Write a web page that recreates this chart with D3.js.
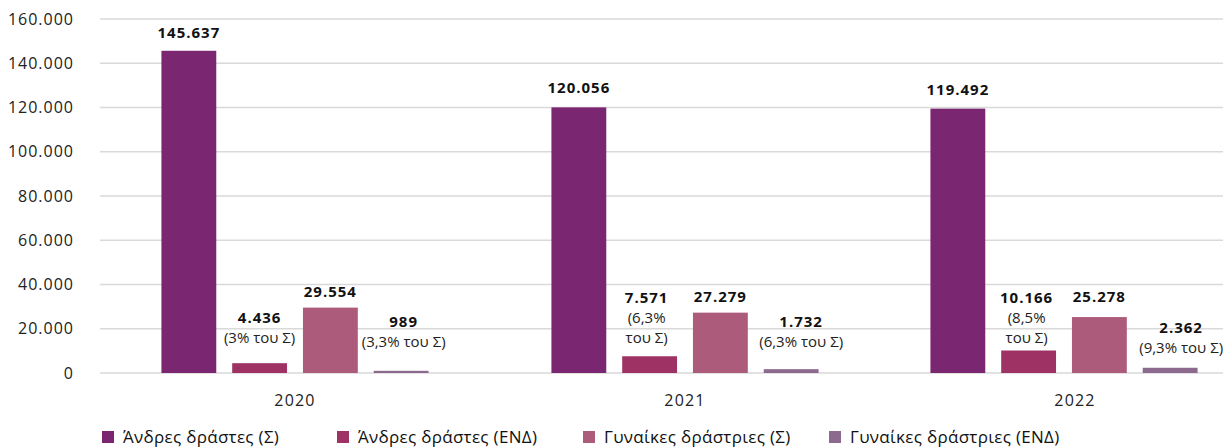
<!DOCTYPE html>
<html>
<head>
<meta charset="utf-8">
<script src="https://cdn.jsdelivr.net/npm/d3@7"></script>
<style>
  html, body { margin: 0; padding: 0; background: #fff; }
  svg { display: block; font-family: "Open Sans", "Noto Sans", sans-serif; }
</style>
</head>
<body>
<svg id="chart" width="1223" height="447"></svg>
<script>
// ---- data ----
const years = ["2020", "2021", "2022"];
const seriesNames = ["Άνδρες δράστες (Σ)", "Άνδρες δράστες (ΕΝΔ)", "Γυναίκες δράστριες (Σ)", "Γυναίκες δράστριες (ΕΝΔ)"];
const menTotal = [145637, 120056, 119492];
const menEND = [4436, 7571, 10166];
const womenTotal = [29554, 27279, 25278];
const womenEND = [989, 1732, 2362];
const valueLabels = [
  ["145.637", "120.056", "119.492"],
  ["4.436", "7.571", "10.166"],
  ["29.554", "27.279", "25.278"],
  ["989", "1.732", "2.362"]
];
const noteLabels = [
  ["", "", ""],
  ["(3% του Σ)", "(6,3%\nτου Σ)", "(8,5%\nτου Σ)"],
  ["", "", ""],
  ["(3,3% του Σ)", "(6,3% του Σ)", "(9,3% του Σ)"]
];
const yTicks = [0, 20000, 40000, 60000, 80000, 100000, 120000, 140000, 160000];

// ---- layout / style ----
const colors = ["#7b2670", "#9e3264", "#ad5b7b", "#8b6a8d"];
const labelGap = [ // px between bar top and baseline of the last label line
  [12.5, 14, 14],
  [20, 13, 7.5],
  [11, 11, 15],
  [24, 22, 15]
];
const labelDx = [
  [0, 0, 0],
  [0, -3, -2],
  [0, 0, 0],
  [2.5, 10, 11]
];
const groupDx = [0, 0, -11];
const lineH = 20;
const legendX = [102, 337, 583, 829];

const seriesValues = [menTotal, menEND, womenTotal, womenEND];
const svg = d3.select("#chart");

const x0 = d3.scaleBand().domain(years).range([100, 1270]).paddingInner(0.315).paddingOuter(0.1575);
const x1 = d3.scaleBand().domain(d3.range(seriesNames.length)).range([0, x0.bandwidth()]).paddingInner(0.225).paddingOuter(0);
const y = d3.scaleLinear().domain([0, 160000]).range([373, 19]);

const fmt = d3.formatLocale({decimal: ",", thousands: ".", grouping: [3], currency: ["", "€"]}).format(",");

// y axis labels
const yAxis = d3.axisLeft(y).tickValues(yTicks).tickFormat(fmt).tickSize(0).tickPadding(0);
const gy = svg.append("g").attr("transform", "translate(74,0)").call(yAxis);
gy.select(".domain").remove();
gy.selectAll("text").attr("font-size", 16).attr("letter-spacing", "1px").attr("fill", "#222")
  .attr("font-family", "Open Sans, Noto Sans, sans-serif");

// gridlines
svg.append("g").selectAll("line").data(yTicks).join("line")
  .attr("x1", 100).attr("x2", 1270)
  .attr("y1", d => y(d)).attr("y2", d => y(d))
  .attr("stroke", "#d9d9d9").attr("stroke-width", 1.3);

// x axis labels
const xAxis = d3.axisBottom(x0).tickSize(0).tickPadding(0);
const gx = svg.append("g").attr("transform", "translate(0,395)").call(xAxis);
gx.select(".domain").remove();
gx.selectAll("text").attr("font-size", 16).attr("letter-spacing", "1.2px").attr("fill", "#222").attr("dy", "0.71em")
  .attr("font-family", "Open Sans, Noto Sans, sans-serif");

// bars
const groups = svg.append("g").selectAll("g").data(years).join("g")
  .attr("transform", (d, i) => `translate(${x0(d) + groupDx[i]},0)`);

groups.selectAll("rect").data((yr, i) => seriesValues.map((s, k) => ({k, i, v: s[i]})))
  .join("rect")
  .attr("x", d => x1(d.k))
  .attr("width", x1.bandwidth())
  .attr("y", d => y(d.v))
  .attr("height", d => y(0) - y(d.v))
  .attr("fill", d => colors[d.k]);

// labels
groups.each(function(yr, i) {
  const g = d3.select(this);
  seriesValues.forEach((s, k) => {
    const lines = [{t: valueLabels[k][i], bold: true}];
    if (noteLabels[k][i]) noteLabels[k][i].split("\n").forEach(t => lines.push({t, bold: false}));
    const bottom = y(s[i]) - labelGap[k][i];
    const cx = x1(k) + x1.bandwidth() / 2 + labelDx[k][i];
    lines.forEach((ln, j) => {
      g.append("text")
        .attr("x", cx)
        .attr("y", bottom - (lines.length - 1 - j) * lineH)
        .attr("text-anchor", "middle")
        .attr("font-size", 15)
        .attr("letter-spacing", ln.bold ? "1px" : "0px")
        .attr("font-weight", ln.bold ? 700 : 400)
        .attr("fill", ln.bold ? "#111" : "#222")
        .text(ln.t);
    });
  });
});

// legend
const leg = svg.append("g").attr("transform", "translate(0,437)");
seriesNames.forEach((name, k) => {
  const it = leg.append("g").attr("transform", `translate(${legendX[k]},0)`);
  it.append("rect").attr("x", 0).attr("y", -6).attr("width", 12).attr("height", 12).attr("fill", colors[k]);
  it.append("text").attr("x", 21).attr("y", 0).attr("dy", "0.35em")
    .attr("font-size", 17).attr("letter-spacing", "0.3px").attr("fill", "#111").text(name);
});
</script>
</body>
</html>
